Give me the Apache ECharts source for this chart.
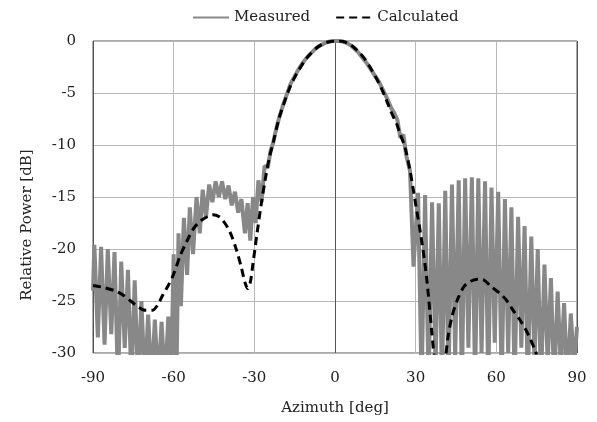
<!DOCTYPE html>
<html>
<head>
<meta charset="utf-8">
<script src="https://cdn.jsdelivr.net/npm/echarts@6/dist/echarts.min.js"></script>
<style>html,body{margin:0;padding:0;background:#fff}#c{width:597px;height:422px}</style>
</head>
<body>
<div id="c"></div>
<script>
var xTicks = [-90, -60, -30, 0, 30, 60, 90];
var yTicks = [0, -5, -10, -15, -20, -25, -30];

var measuredAzimuth = [
 -90,-89.5,-88.2,-87,-85.7,-84.5,-83.2,-82,-80.7,-79.5,-78.2,-77,-75.7,-74.5,-73.2,-72,-70.7,-69.5,-68.2,-67,-65.7,-64.5,-63.2,-62,-61,-60,-59,-58.2,-57.3,-56.2,-55,-54,-52.8,-51.5,-50.3,-49.2,-48,-46.8,-45.6,-44.4,-43.2,-42,-40.8,-39.6,-38.4,-37.2,-36,-34.8,-33.5,-32.5,-31.5,-30.5,-29.5,-28.5,-27.3,-26.2,-25,
 -24,-23,-22,-21,-19.5,-18,-16.5,-15,-13.5,-12,-10.5,-9,-7.5,-6,-4.5,-3,-1.5,0,1.5,3,4.5,6,7.5,9,10.5,12,13.5,15,16.5,18,19.5,21,22,23.2,24.3,25.4,26.5,
 27.9,29.2,30.9,32.2,33.5,34.8,36.1,37.4,38.6,39.8,41,42.2,43.5,44.7,46,47.2,48.4,49.6,50.9,52.1,53.3,54.5,55.8,57,58.2,59.4,60.7,62,63.2,64.4,65.6,66.8,68.1,69.3,70.5,71.7,73,74.2,75.4,76.6,77.9,79.1,80.3,81.5,82.8,84,85.2,86.4,87.7,88.9,90
];
var measuredPower = [
 -24,-19.6,-28.5,-19.8,-29.2,-20.0,-28.2,-20.3,-33,-21.2,-29.5,-22.0,-33,-23.0,-33,-25.0,-33,-26.3,-33,-26.8,-33,-27.0,-33,-26.5,-33,-20.5,-33,-18.5,-25.5,-17,-22.5,-16,-20.5,-15,-18.5,-14.3,-17,-13.8,-15.5,-13.5,-15,-13.5,-15.2,-13.9,-15.8,-14.5,-16.5,-15.2,-18.5,-15.6,-19.2,-15.0,-17.5,-13.4,-15.5,-12,-12.2,
 -10.6,-9.8,-8.6,-7.6,-6.3,-5.2,-4.1,-3.4,-2.7,-2.1,-1.6,-1.2,-0.8,-0.5,-0.3,-0.12,-0.03,0,0,-0.05,-0.2,-0.45,-0.8,-1.2,-1.7,-2.2,-2.8,-3.4,-4.0,-4.8,-5.6,-6.5,-6.9,-7.6,-9.3,-9.0,-11.0,
 -12.5,-21.7,-14.6,-33,-14.8,-33,-15.5,-31.5,-15.6,-33,-14.4,-33,-13.8,-30.5,-13.4,-33,-13.2,-29.5,-13.1,-33,-13.2,-30,-13.5,-33,-14.1,-29,-14.5,-33,-15.2,-30,-16.0,-33,-16.9,-29.5,-17.8,-33,-18.8,-31,-20.0,-33,-21.5,-31,-22.8,-33,-24.1,-31.5,-25.2,-33,-26.2,-31.5,-27.5
];

var calculatedAzimuth = [
 -90,-86,-82,-79,-76,-73,-70.5,-68,-66,-64,-62,-60,-57.5,-55,-52.5,-50,-47.5,-45.5,-43,-41,-39,-37,-35,-33.5,-32.5,-31.5,-30.5,-29,-27.5,-26,-24.5,-23,-21,-19,-17,-15,-13,-11,-9,-7,-5,-3,-1,1,3,5,7,9,11,13,15,17,19,21,23,24,26,28,30,32,34,36,37.5,39,40.5,42,43.5,45.5,48,50.5,53,55.5,58,61,64,66,69.5,72,74.5,76
];
var calculatedPower = [
 -23.5,-23.7,-24.0,-24.4,-25.0,-25.6,-25.9,-25.9,-25.4,-24.4,-23.5,-22.4,-20.6,-19.2,-18.0,-17.3,-16.9,-16.7,-16.9,-17.5,-18.4,-19.8,-21.6,-23.2,-23.8,-23.2,-21.4,-18.5,-15.8,-13.4,-11.3,-9.8,-7.6,-6.0,-4.6,-3.5,-2.6,-1.8,-1.2,-0.7,-0.35,-0.12,-0.02,0,-0.05,-0.25,-0.6,-1.1,-1.7,-2.5,-3.4,-4.4,-5.6,-6.9,-8.0,-8.8,-10.2,-12.6,-15.7,-18.8,-22.6,-28,-32,-35,-32,-28.5,-26.5,-24.9,-23.6,-23.1,-22.9,-23.0,-23.6,-24.2,-25.0,-25.8,-27.1,-28.3,-29.8,-31
];

function pairs(xs, ys) { return xs.map(function (x, i) { return [x, ys[i]]; }); }

var FONT = 'DejaVu Serif';
var chart = echarts.init(document.getElementById('c'), null, { renderer: 'canvas' });
chart.setOption({
  animation: false,
  backgroundColor: '#fff',
  textStyle: { fontFamily: FONT },
  legend: {
    left: 187, top: 5,
    itemWidth: 36, itemHeight: 10, itemGap: 25,
    itemStyle: { opacity: 0 },
    textStyle: { fontFamily: FONT, fontSize: 15, color: '#222' },
    data: ['Measured', 'Calculated']
  },
  graphic: [{
    type: 'text', x: 27, y: 225, rotation: Math.PI / 2,
    style: { text: 'Relative Power [dB]', fontFamily: FONT, fontSize: 15, fill: '#222', align: 'center', verticalAlign: 'middle' }
  }],
  grid: { left: 93, right: 20, top: 41, bottom: 69, show: true, borderColor: '#555', borderWidth: 1 },
  xAxis: {
    type: 'value', min: -90, max: 90, interval: 30,
    name: 'Azimuth [deg]', nameLocation: 'middle', nameGap: 48,
    nameTextStyle: { fontFamily: FONT, fontSize: 15, color: '#222' },
    axisLine: { show: false }, axisTick: { show: false },
    axisLabel: { margin: 18, fontFamily: FONT, fontSize: 15, color: '#222', formatter: function (v) { return String(v); } },
    splitLine: { show: true, lineStyle: { color: ['#555', '#b8b8b8', '#b8b8b8', '#555', '#b8b8b8', '#b8b8b8', '#555'], width: 1 } }
  },
  yAxis: {
    type: 'value', min: -30, max: 0, interval: 5,
    axisLine: { show: false }, axisTick: { show: false },
    axisLabel: { margin: 17, fontFamily: FONT, fontSize: 15, color: '#222' },
    splitLine: { show: true, lineStyle: { color: '#b8b8b8', width: 1 } }
  },
  series: [
    {
      name: 'Measured', type: 'line', data: pairs(measuredAzimuth, measuredPower),
      symbol: 'none', clip: true, z: 2,
      lineStyle: { color: '#888888', width: 4 }, itemStyle: { color: '#888888' }
    },
    {
      name: 'Calculated', type: 'line', data: pairs(calculatedAzimuth, calculatedPower),
      symbol: 'none', clip: true, smooth: 0.3, z: 3,
      lineStyle: { color: '#000', width: 3, type: [8, 5] }, itemStyle: { color: '#000' }
    }
  ]
});
</script>
</body>
</html>
